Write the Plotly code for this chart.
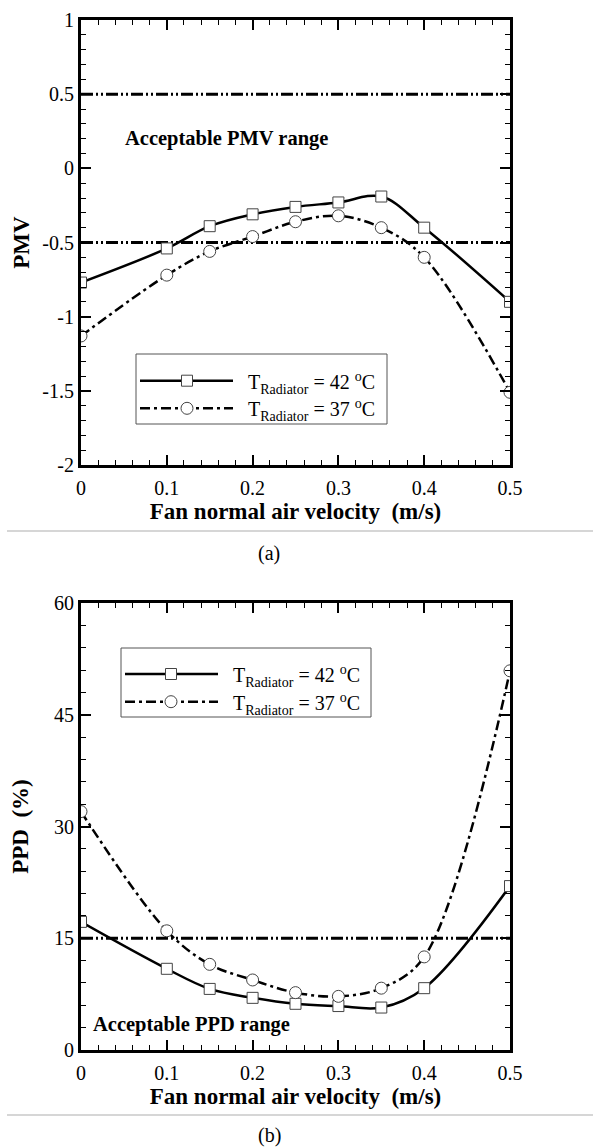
import plotly.graph_objects as go

# ---------------- data ----------------
velocity = [0.0, 0.1, 0.15, 0.2, 0.25, 0.3, 0.35, 0.4, 0.5]
pmv_42 = [-0.77, -0.54, -0.39, -0.31, -0.26, -0.23, -0.19, -0.40, -0.90]
pmv_37 = [-1.13, -0.72, -0.56, -0.46, -0.36, -0.32, -0.40, -0.60, -1.51]
ppd_42 = [17.2, 10.9, 8.2, 7.0, 6.2, 5.9, 5.7, 8.3, 22.0]
ppd_37 = [32.0, 16.0, 11.5, 9.4, 7.7, 7.2, 8.3, 12.5, 50.9]

pmv_limits = [-0.5, 0.5]
ppd_limits = [15]

x_ticks = [0, 0.1, 0.2, 0.3, 0.4, 0.5]
x_ticklabels = ["0", "0.1", "0.2", "0.3", "0.4", "0.5"]
pmv_ticks = [-2, -1.5, -1, -0.5, 0, 0.5, 1]
pmv_ticklabels = ["-2", "-1.5", "-1", "-0.5", "0", "0.5", "1"]
ppd_ticks = [0, 15, 30, 45, 60]
ppd_ticklabels = ["0", "15", "30", "45", "60"]

series_names = ["T<sub>Radiator</sub> = 42 <sup>o</sup>C",
                "T<sub>Radiator</sub> = 37 <sup>o</sup>C"]

# ---------------- layout helpers ----------------
W, H = 593, 1148
SERIF = "Liberation Serif"


def px(x):
    return x / W


def py(y):
    return 1 - y / H


DASH_37 = "10px,4px,3px,4px"
DASH_LIM = "12px,3px,2px,3px,2px,3px"

fig = go.Figure()


def add_series(xa, ya, yvals, solid):
    fig.add_trace(go.Scatter(
        x=velocity, y=yvals, mode="lines+markers", xaxis=xa, yaxis=ya,
        line=dict(color="black", width=2.5, dash="solid" if solid else DASH_37,
                  shape="spline", smoothing=1.0),
        marker=dict(symbol="square" if solid else "circle", size=11 if solid else 12,
                    color="white", line=dict(color="#444", width=1)),
        showlegend=False))


add_series("x", "y", pmv_42, True)
add_series("x", "y", pmv_37, False)
add_series("x2", "y2", ppd_42, True)
add_series("x2", "y2", ppd_37, False)

shapes = []
for v in pmv_limits:
    shapes.append(dict(type="line", xref="x domain", yref="y", x0=0, x1=1, y0=v, y1=v,
                       line=dict(color="black", width=3, dash=DASH_LIM), layer="below"))
for v in ppd_limits:
    shapes.append(dict(type="line", xref="x2 domain", yref="y2", x0=0, x1=1, y0=v, y1=v,
                       line=dict(color="black", width=3, dash=DASH_LIM), layer="below"))

annotations = []


def add_legend(box, rows, line_x, mark_x, text_x):
    x0, x1, y0, y1 = box
    shapes.append(dict(type="rect", xref="paper", yref="paper", x0=px(x0), x1=px(x1),
                       y0=py(y1), y1=py(y0), line=dict(color="#555", width=1),
                       fillcolor="white", layer="above"))
    for i, yrow in enumerate(rows):
        dash = "solid" if i == 0 else DASH_37
        shapes.append(dict(type="line", xref="paper", yref="paper", x0=px(line_x[0]), x1=px(line_x[1]),
                           y0=py(yrow), y1=py(yrow), line=dict(color="black", width=2.5, dash=dash),
                           layer="above"))
        s = 5.5 if i == 0 else 6
        shapes.append(dict(type="rect" if i == 0 else "circle", xref="paper", yref="paper",
                           x0=px(mark_x - s), x1=px(mark_x + s), y0=py(yrow + s), y1=py(yrow - s),
                           line=dict(color="#444", width=1), fillcolor="white", layer="above"))
        annotations.append(dict(xref="paper", yref="paper", x=px(text_x), y=py(yrow + 2),
                                xanchor="left", yanchor="middle", showarrow=False,
                                text=series_names[i], font=dict(family=SERIF, size=20, color="black")))


add_legend((136, 387, 354, 424), (380.7, 408.3), (140, 233), 187, 246)
add_legend((121, 371, 648, 717), (674, 701.7), (125, 218), 171, 231)

annotations.append(dict(xref="x", yref="y", x=0.049, y=0.2, xanchor="left", yanchor="middle",
                        showarrow=False, text="<b>Acceptable PMV range</b>",
                        font=dict(family=SERIF, size=20.5, color="black")))
annotations.append(dict(xref="x2", yref="y2", x=0.012, y=3.4, xanchor="left", yanchor="middle",
                        showarrow=False, text="<b>Acceptable PPD range</b>",
                        font=dict(family=SERIF, size=20.5, color="black")))

for ysep in (531, 1115):
    shapes.append(dict(type="line", xref="paper", yref="paper", x0=px(7), x1=1, y0=py(ysep), y1=py(ysep),
                       line=dict(color="#c8c8c8", width=1.5)))
annotations.append(dict(xref="paper", yref="paper", x=px(269), y=py(553), showarrow=False,
                        xanchor="center", yanchor="middle",
                        text="(a)", font=dict(family=SERIF, size=20, color="black")))
annotations.append(dict(xref="paper", yref="paper", x=px(269), y=py(1135), showarrow=False,
                        xanchor="center", yanchor="middle",
                        text="(b)", font=dict(family=SERIF, size=20, color="black")))

tickfont = dict(family=SERIF, size=20, color="black")
titlefont = dict(family=SERIF, size=23, color="black")
XDOM = [px(81), px(510)]


def minor(dt):
    return dict(dtick=dt, tick0=0, ticks="inside", ticklen=5, tickwidth=1, tickcolor="black", showgrid=False)


def axis(**kw):
    d = dict(automargin=False, showgrid=False, zeroline=False, tickfont=tickfont,
             tickmode="array", ticks="inside", ticklen=10, tickwidth=2, tickcolor="black",
             showline=True, linewidth=3, linecolor="black", mirror="allticks")
    d.update(kw)
    return d


fig.update_layout(
    template="none",
    width=W, height=H, autosize=False,
    margin=dict(l=0, r=0, t=0, b=0, pad=0),
    paper_bgcolor="white", plot_bgcolor="rgba(0,0,0,0)",
    showlegend=False,
    font=dict(family=SERIF, color="black"),
    xaxis=axis(domain=XDOM, range=[0, 0.5], anchor="y", tickvals=x_ticks, ticktext=x_ticklabels,
               minor=minor(0.02), ticklabelstandoff=3,
               title=dict(text="<b>Fan normal air velocity  (m/s)</b>", font=titlefont, standoff=4)),
    yaxis=axis(domain=[py(465), py(20)], range=[-2, 1], anchor="x", tickvals=pmv_ticks,
               ticktext=pmv_ticklabels, minor=minor(0.1),
               title=dict(text="<b>PMV</b>", font=titlefont, standoff=7)),
    xaxis2=axis(domain=XDOM, range=[0, 0.5], anchor="y2", tickvals=x_ticks, ticktext=x_ticklabels,
                minor=minor(0.02), ticklabelstandoff=3,
                title=dict(text="<b>Fan normal air velocity  (m/s)</b>", font=titlefont, standoff=4)),
    yaxis2=axis(domain=[py(1050), py(603)], range=[0, 60], anchor="x2", tickvals=ppd_ticks,
                ticktext=ppd_ticklabels, minor=minor(3),
                title=dict(text="<b>PPD  (%)</b>", font=titlefont, standoff=19)),
    shapes=shapes,
    annotations=annotations,
)

fig.write_html("out.html", config={"displayModeBar": False},
               post_script="document.body.style.margin='0px';")
